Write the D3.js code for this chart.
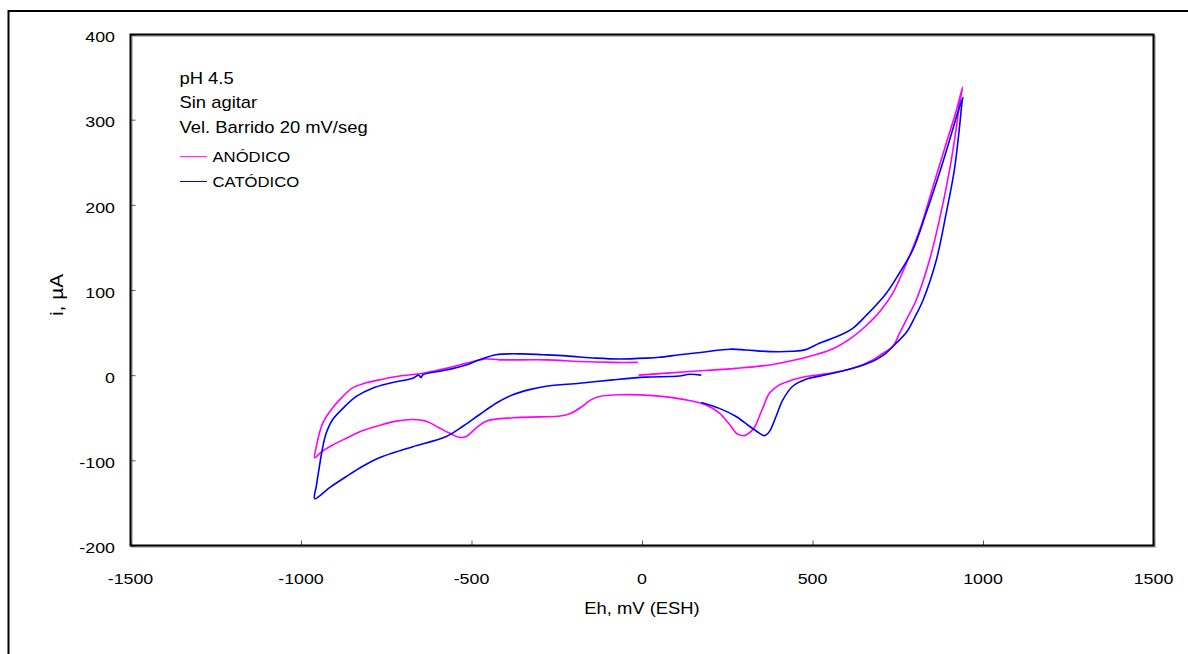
<!DOCTYPE html>
<html><head><meta charset="utf-8">
<script src="https://cdn.jsdelivr.net/npm/d3@7"></script>
<style>body{margin:0;background:#fff}svg{display:block}</style>
</head><body>
<svg id="c" width="1188" height="654"></svg>
<script>
// ---- data (Eh in mV vs ESH, i in µA) ----
const xTicks = [-1500, -1000, -500, 0, 500, 1000, 1500];
const yTicks = [-200, -100, 0, 100, 200, 300, 400];
const seriesNames = ["ANÓDICO", "CATÓDICO"];
const annotations = ["pH 4.5", "Sin agitar", "Vel. Barrido 20 mV/seg"];

const anodicE = [-10,130,276,374,452,500,560,618,657,700,735,775,814,853,892,922,940,
  931,922,902,872,843,804,775,755,735,700,677,618,540,481,442,403,374,355,344,332,320,300,285,276,257,240,227,188,130,32,-66,-125,-150,-180,-210,-240,-300,-379,-457,-486,-516,-535,-565,-594,-633,-672,-721,-770,-819,-867,-907,-940,-960,
  -955,-946,-936,-916,-887,-849,-809,-770,-721,-643,-574,-516,-457,-418,-281,-183,-86,-12];
const anodicI = [0,4,8,12,18,23,31,45,58,76,96,131,170,221,272,311,338,
  318,291,241,182,135,88,65,49,33.5,24,18,8,1.5,-1.6,-5.5,-11.4,-21,-38,-48.5,-60,-66,-71,-70,-68,-58,-50,-44.5,-35,-29,-24,-23,-25,-29,-38,-45,-48,-49,-50,-54,-62,-72,-73,-68,-62,-54,-52,-54,-59,-65,-74,-82,-90,-97,
  -84,-68,-56,-43,-29,-15,-9,-5.5,-1.6,2.3,8,14,19,18,18,16,15,15];

const cathodicE = [174,227,276,315,344,359,374,393,413,442,481,540,618,680,710,745,775,800,824,863,892,916,931,939,941,
  931,902,872,833,794,755,716,657,618,570,520,480,440,374,305,257,178,110,51,12,-66,-134,-222,-291,-350,-428,-477,-516,-574,-643,-648,-655,-672,-740,-789,-838,-877,-907,-926,-936,-946,-955,-960,
  -916,-867,-819,-770,-720,-672,-574,-525,-477,-428,-379,-330,-281,-183,-86,12,81,110,140,174];
const cathodicI = [-32,-39,-48.5,-60,-68,-71,-66,-48.5,-29,-13,-4.7,0.4,8,17,24,37.5,50,68,88,135,190,241,291,322,326,
  315,276,237,190,147,120,96,70,55,45,37.5,30,28,27.7,29.6,30.5,27,24,21,20,19,20,22.6,24,25,24,18,12,6,0.4,-3,0,-3.5,-9.4,-15,-25,-39,-52,-68,-84,-107,-130,-145,
  -132,-119,-107,-97,-90,-84,-72,-60,-46.5,-33,-23,-17,-13,-9.4,-5.5,-2.3,-1.6,-1,1,0];

const colors = ["#ff00ff", "#0000ff"];

// ---- layout ----
const svg = d3.select("#c");
const FONT = "'Liberation Sans', Arial, sans-serif";
const SX = 1.15;
const L = 130.5, R = 1153.5, T = 34.5, B = 545.5;
const x = d3.scaleLinear().domain([-1500, 1500]).range([L, R]);
const y = d3.scaleLinear().domain([-200, 400]).range([B, T]);

function txt(str, px, py, opts = {}) {
  return svg.append("text")
    .attr("transform", `translate(${px},${py})` + (opts.rot ? ` rotate(${opts.rot})` : "") + ` scale(${opts.sx || SX},${opts.sy || 1})`)
    .attr("font-family", FONT)
    .attr("font-size", opts.size || 16)
    .attr("text-anchor", opts.anchor || "start")
    .attr("fill", "#000")
    .text(str);
}

// outer frame (top and left edges visible)
svg.append("line").attr("x1", 8.5).attr("x2", 1188).attr("y1", 11).attr("y2", 11).attr("stroke", "#000").attr("stroke-width", 2);
svg.append("line").attr("x1", 8.5).attr("x2", 8.5).attr("y1", 10).attr("y2", 654).attr("stroke", "#000").attr("stroke-width", 2);

// plot frame shadow
svg.append("rect").attr("x", L + 1.5).attr("y", T + 1.5).attr("width", R - L).attr("height", B - T)
  .attr("fill", "none").attr("stroke", "#aaa").attr("stroke-width", 1.5);

// axes with inward ticks
const xAxis = svg.append("g").attr("transform", `translate(0,${B})`)
  .call(d3.axisBottom(x).tickValues(xTicks).tickSize(-5).tickFormat(""));
const yAxis = svg.append("g").attr("transform", `translate(${L},0)`)
  .call(d3.axisLeft(y).tickValues(yTicks).tickSize(-5).tickFormat(""));
[xAxis, yAxis].forEach(a => { a.select(".domain").remove(); a.selectAll(".tick line").attr("stroke", "#555").attr("stroke-width", 1); });

// plot frame
svg.append("rect").attr("x", L).attr("y", T).attr("width", R - L).attr("height", B - T)
  .attr("fill", "none").attr("stroke", "#000").attr("stroke-width", 2);

// tick labels
xTicks.forEach(v => txt(String(v), x(v), 583.5, { anchor: "middle", size: 15.5 }));
yTicks.forEach(v => txt(String(v), 115, y(v) + 7.8, { anchor: "end", size: 15.5 }));

// axis titles
txt("Eh, mV (ESH)", x(0), 614, { anchor: "middle", size: 16 });
txt("i, µA", 63, 295, { anchor: "middle", size: 16, rot: -90, sx: 1.3, sy: 1.15 });

// curves
const line = d3.line().x(d => x(d[0])).y(d => y(d[1])).curve(d3.curveCatmullRom.alpha(0.5));
const anodic = d3.zip(anodicE, anodicI);
const cathodic = d3.zip(cathodicE, cathodicI);
svg.append("clipPath").attr("id", "plotclip").append("rect").attr("x", L).attr("y", T).attr("width", R - L).attr("height", B - T);
const plot = svg.append("g").attr("clip-path", "url(#plotclip)");
plot.append("path").datum(anodic).attr("d", line).attr("fill", "none").attr("stroke", colors[0]).attr("stroke-width", 1.6).attr("stroke-linejoin", "round");
plot.append("path").datum(cathodic).attr("d", line).attr("fill", "none").attr("stroke", colors[1]).attr("stroke-width", 1.6).attr("stroke-linejoin", "round");

// annotations
const annY = [84.3, 108.3, 133.3];
annotations.forEach((s, i) => txt(s, 179.5, annY[i], { size: 16 }));

// legend
const legY = [156.7, 181.5];
const legTxtY = [162, 187.3];
seriesNames.forEach((s, i) => {
  svg.append("line").attr("x1", 180).attr("x2", 207).attr("y1", legY[i]).attr("y2", legY[i])
    .attr("stroke", colors[i]).attr("stroke-width", 1);
  txt(s, 212.5, legTxtY[i], { size: 14.5 });
});
</script>
</body></html>
